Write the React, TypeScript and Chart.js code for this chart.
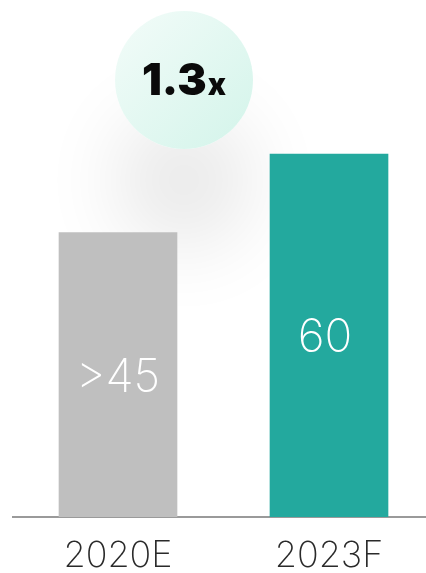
import React, { useEffect, useRef } from "react";
import { Chart, registerables } from "chart.js";

Chart.register(...registerables);

const categories: string[] = ["2020E", "2023F"];
const values: number[] = [47, 60];
const valueLabels: string[] = [">45", "60"];
const barColors: string[] = ["#bfbfbf", "#23a99e"];
const badgeText = "1.3";
const badgeSuffix = "x";

const W = 436;
const H = 573;

const badgePlugin = {
  id: "badge",
  beforeDatasetsDraw(chart: any) {
    const ctx = chart.ctx as CanvasRenderingContext2D;
    const cx = 184;
    const cy = 80;
    const r = 69;
    ctx.save();
    // soft shadow haze
    ctx.shadowColor = "rgba(0,0,0,0.09)";
    ctx.shadowBlur = 80;
    ctx.shadowOffsetX = 0;
    ctx.shadowOffsetY = 100;
    ctx.beginPath();
    ctx.arc(cx, cy, r, 0, Math.PI * 2);
    ctx.fillStyle = "#ffffff";
    ctx.fill();
    ctx.restore();

    ctx.save();
    const g = ctx.createLinearGradient(cx - r, cy - r, cx + r, cy + r);
    g.addColorStop(0, "#f3fcf9");
    g.addColorStop(1, "#d3f4ea");
    ctx.beginPath();
    ctx.arc(cx, cy, r, 0, Math.PI * 2);
    ctx.fillStyle = g;
    ctx.fill();

    ctx.fillStyle = "#0a0a0a";
    ctx.textBaseline = "alphabetic";
    ctx.font = "900 44px Inter, 'DejaVu Sans', sans-serif";
    const w1 = ctx.measureText(badgeText).width;
    ctx.font = "900 30px Inter, 'DejaVu Sans', sans-serif";
    const w2 = ctx.measureText(badgeSuffix).width;
    const startX = cx - (w1 + w2 + 1) / 2;
    ctx.font = "900 44px Inter, 'DejaVu Sans', sans-serif";
    ctx.textAlign = "left";
    ctx.fillText(badgeText, startX, 95);
    ctx.font = "900 30px Inter, 'DejaVu Sans', sans-serif";
    ctx.fillText(badgeSuffix, startX + w1 + 1, 95);
    ctx.restore();
  },
};

const valueLabelPlugin = {
  id: "valueLabels",
  afterDatasetsDraw(chart: any) {
    const ctx = chart.ctx as CanvasRenderingContext2D;
    const meta = chart.getDatasetMeta(0);
    ctx.save();
    ctx.fillStyle = "#ffffff";
    ctx.font = "200 46px Inter, 'Open Sans', sans-serif";
    ctx.textAlign = "center";
    ctx.textBaseline = "middle";
    meta.data.forEach((bar: any, i: number) => {
      const y = (bar.y + bar.base) / 2 + 3;
      ctx.fillText(valueLabels[i], bar.x - (i === 1 ? 4 : 0), y);
    });
    ctx.restore();
  },
};

export default function App() {
  const ref = useRef<HTMLCanvasElement | null>(null);
  useEffect(() => {
    if (!ref.current) return;
    const chart = new Chart(ref.current, {
      type: "bar",
      data: {
        labels: categories,
        datasets: [
          {
            data: values,
            backgroundColor: barColors,
            borderWidth: 0,
            barThickness: 118,
          },
        ],
      },
      options: {
        animation: false,
        responsive: false,
        devicePixelRatio: 1,
        layout: { padding: { left: 12.5, right: 1.5, top: 33, bottom: 0 } },
        plugins: {
          legend: { display: false },
          tooltip: { enabled: false },
        },
        scales: {
          x: {
            offset: true,
            grid: { display: false, drawTicks: false },
            border: { display: true, color: "#9a9a9a", width: 2 },
            ticks: {
              color: "#2a2a2a",
              padding: 18,
              font: { family: "Inter, 'Open Sans', sans-serif", size: 36, weight: 200 },
            },
            afterFit: (scale: any) => {
              scale.height = 56;
            },
          },
          y: {
            display: false,
            min: 0,
            max: 80,
          },
        },
      },
      plugins: [badgePlugin, valueLabelPlugin],
    });
    return () => chart.destroy();
  }, []);
  return (
    <div style={{ position: "absolute", left: 0, top: 0, width: 426, height: H, overflow: "hidden", background: "#fff" }}>
      <canvas ref={ref} width={W} height={H} style={{ display: "block", width: W, height: H }} />
    </div>
  );
}
